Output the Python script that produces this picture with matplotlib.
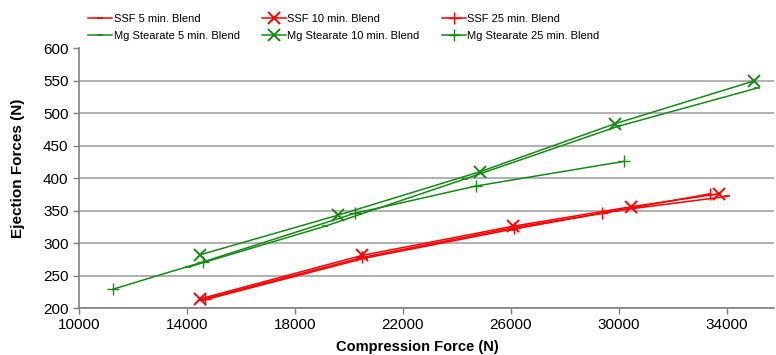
import matplotlib
matplotlib.use("Agg")
import matplotlib.pyplot as plt

plt.rcParams['font.family'] = ['Liberation Sans', 'DejaVu Sans']

# Data (Compression Force N, Ejection Force N)
ssf5_x = [14600, 20600, 26000, 29900, 34000]
ssf5_y = [212, 277, 321, 350, 372]
ssf10_x = [14480, 20480, 26070, 30440, 33700]
ssf10_y = [214, 281, 326, 356, 376]
ssf25_x = [14650, 20500, 26100, 29370, 33370]
ssf25_y = [214, 278, 324, 346, 376]
mg5_x = [14040, 19110, 24300, 29960, 35110]
mg5_y = [263, 326, 399, 480, 539]
mg10_x = [14480, 19590, 24850, 29850, 35000]
mg10_y = [282, 343, 410, 484, 550]
mg25_x = [11260, 14590, 20220, 24700, 30180]
mg25_y = [229, 271, 346, 388, 426]

labels = ["SSF 5 min. Blend", "SSF 10 min. Blend", "SSF 25 min. Blend",
          "Mg Stearate 5 min. Blend", "Mg Stearate 10 min. Blend", "Mg Stearate 25 min. Blend"]
x_ticks = [10000, 14000, 18000, 22000, 26000, 30000, 34000]
y_ticks = [200, 250, 300, 350, 400, 450, 500, 550, 600]

red = '#FF0000'
green = '#158A15'

fig = plt.figure(figsize=(7.76, 3.55), dpi=100)
ax = fig.add_axes([79/776, 1-308/355, (774-79)/776, (308-48.5)/355])

lw = 1.1
h = {}
h[labels[0]], = ax.plot(ssf5_x, ssf5_y, color=red, lw=lw, marker='_', ms=4, mew=1.2)
h[labels[1]], = ax.plot(ssf10_x, ssf10_y, color=red, lw=lw, marker='x', ms=8, mew=1.4)
h[labels[2]], = ax.plot(ssf25_x, ssf25_y, color=red, lw=lw, marker='+', ms=8, mew=1.0)
h[labels[3]], = ax.plot(mg5_x, mg5_y, color=green, lw=lw, marker='_', ms=4, mew=1.2)
h[labels[4]], = ax.plot(mg10_x, mg10_y, color=green, lw=lw, marker='x', ms=8, mew=1.4)
h[labels[5]], = ax.plot(mg25_x, mg25_y, color=green, lw=lw, marker='+', ms=8, mew=1.0)

ax.set_xlim(10000, 10000 + (774-79)/0.027)
ax.set_ylim(200, 600)
ax.set_xticks(x_ticks)
ax.set_yticks(y_ticks)
ax.tick_params(labelsize=11, colors='#808080', labelcolor='black', length=4, width=1)
ax.yaxis.grid(True, color='#AAAAAA', lw=1.3)
ax.set_axisbelow(True)
for s in ['top', 'right']:
    ax.spines[s].set_visible(False)
for s in ['left', 'bottom']:
    ax.spines[s].set_color('#808080')
    ax.spines[s].set_linewidth(1.2)

ax.set_xlabel("Compression Force (N)", fontsize=10.5, fontweight='bold')
ax.set_ylabel("Ejection Forces (N)", fontsize=11, fontweight='bold')
ax.xaxis.set_label_coords((417-79)/695, -(347-308)/259.5, transform=ax.transAxes)
ax.xaxis.label.set_va('center')
ax.yaxis.set_label_coords(-(79-18)/695, (308-168)/259.5, transform=ax.transAxes)
ax.yaxis.label.set_va('center')

order = [labels[0], labels[3], labels[1], labels[4], labels[2], labels[5]]
fig.legend([h[k] for k in order], order, ncol=3, loc='upper left',
           bbox_to_anchor=(88/776, 1 - 14/355), frameon=False, fontsize=8,
           handlelength=2.2, handletextpad=0.1, columnspacing=2.0,
           labelspacing=0.6, borderaxespad=0.0, borderpad=0.0)

fig.savefig("out.png", dpi=100)
